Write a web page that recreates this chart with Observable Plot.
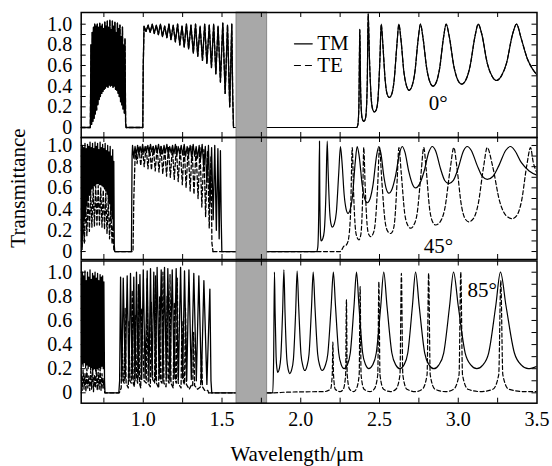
<!DOCTYPE html>
<html><head><meta charset="utf-8">
<script src="https://cdn.jsdelivr.net/npm/d3@7"></script>
<script src="https://cdn.jsdelivr.net/npm/@observablehq/plot@0.6"></script>
<style>
body{margin:0;background:#fff}
#wrap{position:relative;width:552px;height:466px;overflow:hidden;background:#fff}
#wrap svg{position:absolute;left:0}
.lab{position:absolute;font-family:'Liberation Serif','Times New Roman',Times,serif;font-size:21px;white-space:nowrap;line-height:21px;color:#000}
</style>
</head><body><div id="wrap"></div>
<script>
// ---------- tick labels / categories ----------
const xTickLabels = [1.0, 1.5, 2.0, 2.5, 3.0, 3.5];
const xMinorTicks = [0.75, 1.0, 1.25, 1.5, 1.75, 2.0, 2.25, 2.5, 2.75, 3.0, 3.25];
const yTickLabels = [0, 0.2, 0.4, 0.6, 0.8, 1.0];
const yMinorTicks = [0, 0.1, 0.2, 0.3, 0.4, 0.5, 0.6, 0.7, 0.8, 0.9, 1.0];
const band = [1.592, 1.787];
const angleLabels = ["0°", "45°", "85°"];
const seriesNames = ["TM", "TE"];

// ---------- 0 degrees (TM; TE identical at normal incidence) ----------
const tm0Dense = [[0.606,0],[0.664,0],[0.668,0.80],[0.672,0.03],[0.676,0.92],[0.680,0.06],[0.684,0.97],[0.688,0.09],[0.692,1.00],[0.696,0.13],[0.700,0.98],[0.704,0.17],[0.708,1.00],[0.712,0.22],[0.716,0.97],[0.720,0.27],[0.724,1.01],[0.728,0.30],[0.732,0.98],[0.736,0.33],[0.740,1.00],[0.744,0.35],[0.748,0.96],[0.752,0.37],[0.756,1.02],[0.760,0.38],[0.764,0.98],[0.768,0.40],[0.772,1.03],[0.776,0.39],[0.780,0.97],[0.784,0.41],[0.788,1.04],[0.792,0.40],[0.796,0.95],[0.800,0.41],[0.804,1.03],[0.808,0.39],[0.812,0.98],[0.816,0.40],[0.820,1.02],[0.824,0.37],[0.828,0.92],[0.832,0.36],[0.836,1.01],[0.840,0.33],[0.844,0.96],[0.848,0.30],[0.852,0.99],[0.856,0.25],[0.860,0.88],[0.864,0.22],[0.868,0.97],[0.872,0.18],[0.876,0.80],[0.880,0.14],[0.884,0.86],[0.888,0.05],[0.891,0],
[0.997,0],[1.000,0.6],[1.005,0.98],[1.018,0.93],[1.031,0.99],[1.044,0.92],[1.057,1.0],[1.07,0.91],[1.083,0.99],[1.096,0.90],[1.109,1.0],[1.122,0.88],[1.136,0.98],[1.15,0.87],[1.163,1.0],[1.176,0.85],[1.19,0.99],[1.204,0.83],[1.218,1.0],[1.232,0.80],[1.246,0.98],[1.26,0.78],[1.274,1.0],[1.288,0.76],[1.303,0.99],[1.318,0.72],[1.332,1.0],[1.346,0.69],[1.361,0.98],[1.376,0.65],[1.39,1.0],[1.404,0.62],[1.419,0.99],[1.433,0.58],[1.447,1.0],[1.461,0.52],[1.475,0.98],[1.49,0.44],[1.505,1.01],[1.52,0.33],[1.535,0.99],[1.549,0.2],[1.562,1.0],[1.568,0.3],[1.573,0]];
const tm0Smooth = [[1.573,0],[2.355,0],[2.363,0.03],[2.369,0.2],[2.375,0.95],[2.380,0.38],[2.3875,0.11],[2.394,0.07],[2.400,0.06],[2.407,0.07],[2.414,0.12],[2.4224,0.44],[2.428,1.1],[2.436,0.68],[2.448,0.27],[2.458,0.17],[2.468,0.15],[2.479,0.17],[2.4895,0.26],[2.5024,0.65],[2.511,1.0],[2.521,0.81],[2.5365,0.45],[2.549,0.32],[2.562,0.29],[2.577,0.32],[2.5925,0.45],[2.611,0.81],[2.623,1.0],[2.636,0.855],[2.6555,0.53],[2.672,0.40],[2.688,0.36],[2.706,0.40],[2.724,0.53],[2.7456,0.855],[2.760,1.0],[2.776,0.87],[2.80,0.57],[2.82,0.44],[2.840,0.40],[2.861,0.44],[2.8815,0.57],[2.9064,0.87],[2.923,1.0],[2.943,0.88],[2.9725,0.59],[2.997,0.46],[3.022,0.42],[3.048,0.46],[3.0745,0.59],[3.106,0.88],[3.127,1.0],[3.15,0.90],[3.1845,0.62],[3.213,0.50],[3.242,0.455],[3.274,0.50],[3.306,0.62],[3.3444,0.90],[3.370,1.0],[3.40,0.86],[3.44,0.66],[3.47,0.57],[3.5,0.51]];
const te0Dense = tm0Dense;
const te0Smooth = tm0Smooth;

// ---------- 45 degrees ----------
const tm45Dense = [[0.606,0.96],[0.610,0.04],[0.614,1.0],[0.618,0.15],[0.622,0.98],[0.626,0.29],[0.630,1.02],[0.634,0.35],[0.638,0.97],[0.642,0.43],[0.646,1.01],[0.650,0.48],[0.654,0.99],[0.658,0.53],[0.662,1.03],[0.666,0.56],[0.670,0.98],[0.674,0.59],[0.678,1.02],[0.682,0.60],[0.686,0.97],[0.690,0.62],[0.694,1.03],[0.698,0.63],[0.702,0.99],[0.706,0.64],[0.710,1.02],[0.714,0.64],[0.718,0.96],[0.722,0.63],[0.726,1.03],[0.730,0.63],[0.734,0.98],[0.738,0.62],[0.742,1.01],[0.746,0.61],[0.750,0.97],[0.754,0.59],[0.758,1.02],[0.762,0.57],[0.766,0.95],[0.770,0.54],[0.774,1.0],[0.778,0.50],[0.782,0.94],[0.786,0.45],[0.790,0.99],[0.794,0.39],[0.798,0.90],[0.802,0.31],[0.806,0.96],[0.810,0.2],[0.813,0.85],[0.816,0.06],[0.819,0],
[0.925,0],[0.929,0.9],[0.932,1.0],[0.940,0.88],[0.948,0.99],[0.956,0.91],[0.964,1.0],[0.972,0.92],[0.980,0.99],[0.988,0.93],[0.996,1.01],[1.004,0.93],[1.012,0.99],[1.020,0.94],[1.029,1.0],[1.037,0.93],[1.046,1.01],[1.054,0.94],[1.063,0.99],[1.071,0.93],[1.080,1.0],[1.088,0.94],[1.097,1.01],[1.105,0.93],[1.114,0.99],[1.123,0.92],[1.132,1.0],[1.141,0.93],[1.150,1.01],[1.159,0.92],[1.168,0.99],[1.177,0.93],[1.186,1.0],[1.195,0.92],[1.204,1.01],[1.213,0.91],[1.222,0.99],[1.231,0.92],[1.241,1.0],[1.250,0.91],[1.260,1.01],[1.269,0.90],[1.279,0.99],[1.288,0.91],[1.298,1.0],[1.307,0.89],[1.317,1.01],[1.326,0.9],[1.336,0.99],[1.345,0.88],[1.355,1.0],[1.364,0.87],[1.374,1.01],[1.384,0.80],[1.394,0.99],[1.404,0.65],[1.414,1.0],[1.424,0.45],[1.434,0.98],[1.444,0.30],[1.454,1.0],[1.464,0.2],[1.474,0.97],[1.482,0.12],[1.490,0.95],[1.495,0.3],[1.499,0]];
const tm45Smooth = [[1.499,0],[2.100,0],[2.108,0.04],[2.114,0.35],[2.119,1.04],[2.121,0.55],[2.1245,0.19],[2.127,0.12],[2.130,0.10],[2.1395,0.12],[2.149,0.19],[2.160,0.55],[2.168,1.04],[2.174,0.75],[2.184,0.37],[2.192,0.26],[2.200,0.23],[2.213,0.26],[2.226,0.37],[2.2416,0.75],[2.252,0.99],[2.2616,0.85],[2.276,0.53],[2.288,0.40],[2.300,0.36],[2.3145,0.40],[2.329,0.53],[2.3464,0.85],[2.358,0.99],[2.371,0.90],[2.39,0.63],[2.406,0.50],[2.422,0.46],[2.4405,0.50],[2.459,0.63],[2.481,0.90],[2.496,0.99],[2.509,0.925],[2.5275,0.71],[2.543,0.59],[2.559,0.55],[2.580,0.59],[2.6015,0.71],[2.627,0.925],[2.644,0.99],[2.661,0.94],[2.6865,0.75],[2.708,0.64],[2.729,0.60],[2.7555,0.64],[2.782,0.75],[2.8138,0.94],[2.835,0.99],[2.856,0.95],[2.8875,0.78],[2.914,0.67],[2.940,0.64],[2.969,0.67],[2.9985,0.78],[3.0336,0.95],[3.057,0.99],[3.082,0.955],[3.1205,0.81],[3.152,0.71],[3.184,0.68],[3.221,0.71],[3.258,0.81],[3.302,0.955],[3.332,0.99],[3.36,0.95],[3.40,0.84],[3.45,0.76],[3.5,0.72]];
const te45Dense = [[0.606,0.30],[0.612,0.02],[0.618,0.40],[0.626,0.08],[0.634,0.47],[0.642,0.15],[0.650,0.53],[0.658,0.19],[0.666,0.57],[0.674,0.23],[0.682,0.60],[0.690,0.24],[0.698,0.62],[0.706,0.25],[0.714,0.62],[0.722,0.25],[0.730,0.60],[0.738,0.23],[0.746,0.58],[0.754,0.21],[0.762,0.55],[0.770,0.17],[0.778,0.5],[0.786,0.12],[0.794,0.42],[0.802,0.07],[0.808,0.25],[0.813,0.02],[0.816,0],
[0.935,0],[0.940,0.5],[0.950,0.98],[0.961,0.83],[0.972,0.99],[0.984,0.81],[0.995,0.98],[1.006,0.80],[1.018,0.99],[1.030,0.78],[1.041,0.98],[1.052,0.77],[1.064,0.99],[1.076,0.76],[1.088,0.98],[1.100,0.75],[1.112,0.99],[1.124,0.73],[1.136,0.98],[1.148,0.71],[1.160,0.99],[1.172,0.70],[1.185,0.98],[1.197,0.68],[1.210,0.99],[1.222,0.66],[1.235,0.98],[1.248,0.63],[1.260,0.99],[1.272,0.60],[1.285,0.98],[1.298,0.57],[1.310,0.99],[1.322,0.54],[1.335,0.97],[1.348,0.50],[1.360,0.98],[1.372,0.42],[1.385,0.96],[1.396,0.33],[1.408,0.95],[1.419,0.22],[1.430,0.9],[1.436,0.08],[1.443,0]];
const te45Smooth = [[1.443,0],[2.250,0],[2.262,0.02],[2.273,0.05],[2.2865,0.058],[2.300,0.095],[2.3162,0.36],[2.327,0.98],[2.3354,0.56],[2.348,0.2],[2.3585,0.13],[2.369,0.11],[2.3768,0.13],[2.3845,0.2],[2.3938,0.56],[2.400,0.98],[2.4086,0.63],[2.4215,0.25],[2.432,0.16],[2.443,0.14],[2.457,0.16],[2.4715,0.25],[2.4886,0.63],[2.500,0.98],[2.514,0.68],[2.535,0.29],[2.5525,0.19],[2.570,0.17],[2.583,0.19],[2.5965,0.29],[2.6124,0.68],[2.623,0.98],[2.638,0.74],[2.66,0.36],[2.6785,0.25],[2.697,0.22],[2.718,0.25],[2.739,0.36],[2.764,0.74],[2.781,0.98],[2.796,0.78],[2.8185,0.40],[2.837,0.28],[2.856,0.25],[2.885,0.28],[2.914,0.40],[2.949,0.78],[2.972,0.98],[2.991,0.80],[3.0195,0.44],[3.043,0.31],[3.067,0.28],[3.096,0.31],[3.1255,0.44],[3.161,0.80],[3.184,0.98],[3.216,0.82],[3.2635,0.47],[3.303,0.34],[3.343,0.31],[3.372,0.34],[3.401,0.47],[3.436,0.82],[3.459,0.98],[3.475,0.85],[3.5,0.74]];

// ---------- 85 degrees ----------
const tm85Dense = [[0.606,0.95],[0.610,0.24],[0.614,1.0],[0.618,0.22],[0.622,0.97],[0.626,0.25],[0.630,1.01],[0.634,0.21],[0.638,0.93],[0.642,0.23],[0.646,1.0],[0.650,0.20],[0.654,0.96],[0.658,0.22],[0.662,1.02],[0.666,0.19],[0.670,0.94],[0.674,0.21],[0.678,0.99],[0.682,0.19],[0.686,0.97],[0.690,0.20],[0.694,1.0],[0.698,0.18],[0.702,0.95],[0.706,0.20],[0.710,0.99],[0.714,0.19],[0.718,0.93],[0.722,0.21],[0.726,0.98],[0.730,0.20],[0.734,0.96],[0.738,0.22],[0.742,0.97],[0.746,0.2],[0.750,0.92],[0.754,0.1],[0.757,0],
[0.845,0],[0.850,0.1],[0.856,0.96],[0.864,0.1],[0.873,0.95],[0.886,0.12],[0.898,0.97],[0.909,0.1],[0.919,0.99],[0.930,0.12],[0.940,0.96],[0.948,0.1],[0.957,1.0],[0.968,0.13],[0.979,0.98],[0.990,0.11],[1.000,1.02],[1.012,0.12],[1.025,1.01],[1.036,0.1],[1.046,1.03],[1.056,0.13],[1.067,1.0],[1.078,0.11],[1.088,1.04],[1.101,0.12],[1.114,1.02],[1.125,0.1],[1.135,1.04],[1.146,0.12],[1.156,1.03],[1.170,0.1],[1.184,1.02],[1.196,0.12],[1.209,1.03],[1.223,0.11],[1.237,1.04],[1.250,0.12],[1.262,1.01],[1.276,0.1],[1.290,1.02],[1.305,0.11],[1.321,0.99],[1.337,0.1],[1.353,0.97],[1.369,0.09],[1.385,0.93],[1.404,0.07],[1.423,0.86],[1.430,0.1],[1.435,0]];
const tm85Smooth = [[1.435,0],[1.822,0],[1.828,0.3],[1.833,1.0],[1.837,0.68],[1.8435,0.3],[1.849,0.2],[1.854,0.17],[1.864,0.2],[1.8735,0.3],[1.885,0.68],[1.893,1.02],[1.900,0.67],[1.9115,0.28],[1.921,0.19],[1.930,0.16],[1.942,0.19],[1.9535,0.28],[1.9676,0.67],[1.977,1.01],[1.987,0.71],[2.0015,0.32],[2.014,0.22],[2.026,0.185],[2.039,0.22],[2.0525,0.32],[2.0684,0.71],[2.079,1.0],[2.0904,0.71],[2.1075,0.32],[2.122,0.22],[2.136,0.185],[2.154,0.22],[2.1715,0.32],[2.1928,0.71],[2.207,1.0],[2.2206,0.72],[2.241,0.33],[2.258,0.23],[2.275,0.2],[2.295,0.23],[2.3145,0.33],[2.3382,0.72],[2.354,1.0],[2.3696,0.72],[2.393,0.33],[2.4125,0.23],[2.432,0.2],[2.456,0.23],[2.4795,0.33],[2.508,0.72],[2.527,1.0],[2.5476,0.72],[2.5785,0.33],[2.604,0.23],[2.630,0.2],[2.655,0.23],[2.6795,0.33],[2.709,0.72],[2.729,1.0],[2.752,0.72],[2.787,0.33],[2.816,0.23],[2.845,0.2],[2.876,0.23],[2.9075,0.33],[2.945,0.72],[2.970,1.0],[3.0,0.72],[3.044,0.33],[3.081,0.23],[3.118,0.2],[3.1555,0.23],[3.193,0.33],[3.238,0.72],[3.268,1.0],[3.3034,0.72],[3.3565,0.33],[3.401,0.23],[3.445,0.2],[3.5,0.22]];
const te85Dense = [[0.606,0.15],[0.612,0.02],[0.618,0.19],[0.624,0.03],[0.630,0.16],[0.636,0.01],[0.642,0.2],[0.648,0.04],[0.654,0.14],[0.660,0.02],[0.666,0.18],[0.672,0.03],[0.678,0.21],[0.684,0.01],[0.690,0.15],[0.696,0.04],[0.702,0.19],[0.708,0.02],[0.714,0.17],[0.720,0.03],[0.726,0.2],[0.732,0.02],[0.738,0.16],[0.744,0.04],[0.750,0.12],[0.755,0],
[0.848,0],[0.860,0.04],[0.866,0.5],[0.872,0.1],[0.879,0.08],[0.885,0.7],[0.891,0.08],[0.905,0.04],[0.909,0.6],[0.915,0.1],[0.924,0.08],[0.930,0.85],[0.936,0.08],[0.944,0.05],[0.949,0.65],[0.958,0.12],[0.964,0.08],[0.970,0.9],[0.976,0.08],[0.984,0.04],[0.990,0.7],[1.005,0.1],[1.019,0.08],[1.025,0.95],[1.031,0.08],[1.045,0.05],[1.051,0.75],[1.060,0.11],[1.072,0.08],[1.078,0.97],[1.084,0.08],[1.098,0.04],[1.104,0.8],[1.110,0.1],[1.119,0.08],[1.125,1.0],[1.131,0.08],[1.145,0.05],[1.151,0.8],[1.158,0.1],[1.164,0.08],[1.170,0.98],[1.176,0.08],[1.190,0.04],[1.197,0.75],[1.204,0.1],[1.210,0.08],[1.216,0.95],[1.222,0.08],[1.240,0.04],[1.246,0.6],[1.255,0.09],[1.262,0.07],[1.268,0.7],[1.274,0.07],[1.292,0.03],[1.308,0.07],[1.314,0.06],[1.320,0.5],[1.326,0.06],[1.345,0.03],[1.364,0.05],[1.370,0.3],[1.376,0.05],[1.39,0.02],[1.41,0.02],[1.415,0]];
const te85Smooth = [[1.415,0],[1.83,0],[1.90,0.005],[2.0,0.008],[2.15,0.01],[2.189,0.03],[2.200,0.15],[2.204,0.42],[2.208,0.15],[2.219,0.03],[2.25,0.01],[2.270,0.03],[2.285,0.15],[2.290,0.77],[2.295,0.15],[2.310,0.03],[2.335,0.01],[2.352,0.03],[2.371,0.15],[2.377,0.88],[2.383,0.15],[2.402,0.03],[2.44,0.01],[2.466,0.03],[2.489,0.15],[2.496,0.92],[2.503,0.15],[2.526,0.03],[2.57,0.01],[2.604,0.03],[2.630,0.15],[2.639,0.99],[2.648,0.15],[2.674,0.03],[2.73,0.01],[2.772,0.03],[2.802,0.15],[2.812,0.99],[2.822,0.15],[2.852,0.03],[2.92,0.01],[2.971,0.03],[3.005,0.15],[3.016,1.0],[3.027,0.15],[3.061,0.03],[3.14,0.01],[3.220,0.03],[3.257,0.15],[3.270,0.93],[3.283,0.15],[3.320,0.03],[3.42,0.01],[3.5,0.01]];

// ---------- layout (positions & styles) ----------
const W = 552, ML = 80.7, MR = 15.5;
const X_DOMAIN = [0.606, 3.5];
const FONT = "'Liberation Serif','Times New Roman',Times,serif";
const layout = [
  {top: 0,   height: 138, mt: 12,  mb: 1,    y: [-0.097, 1.113], angle: {x: 2.872, y: 0.165}},
  {top: 136, height: 124, mt: 1,   mb: 1,    y: [-0.075, 1.075], angle: {x: 2.875, y: -0.01}},
  {top: 259, height: 207, mt: 1.5, mb: 63.3, y: [-0.086, 1.093], angle: {x: 3.152, y: 0.793}}
];
const legendPos = {x1: 1.96, x2: 2.073, xText: 2.104, yTM: 0.81, yTE: 0.60, yTMText: 0.812, yTEText: 0.605};
const panels = [
  {tm: [tm0Dense, tm0Smooth], te: [te0Dense, te0Smooth]},
  {tm: [tm45Dense, tm45Smooth], te: [te45Dense, te45Smooth]},
  {tm: [tm85Dense, tm85Smooth], te: [te85Dense, te85Smooth]}
];
const yFmt = d => d === 0 ? "0" : d.toFixed(1);

const wrap = document.getElementById("wrap");
panels.forEach((p, i) => {
  const L = layout[i];
  const fh = L.height - L.mt - L.mb;
  const fw = W - ML - MR;
  const marks = [];
  const curves = ["linear", "monotone-x"];
  const widths = [1.3, 1.2];
  p.tm.forEach((seg, k) => marks.push(Plot.line(seg, {x: d => d[0], y: d => d[1], curve: curves[k], stroke: "black", strokeWidth: widths[k], clip: true})));
  p.te.forEach((seg, k) => marks.push(Plot.line(seg, {x: d => d[0], y: d => d[1], curve: curves[k], stroke: "black", strokeWidth: widths[k], strokeDasharray: "4,2.5", clip: true})));
  marks.push(Plot.rect([band], {x1: d => d[0], x2: d => d[1], fill: "#a8a8a8", stroke: "#7a7a7a", strokeWidth: 0.8}));
  marks.push(Plot.tickX(xMinorTicks, {x: d => d, insetTop: fh - 5, stroke: "black", strokeWidth: 1}));
  marks.push(Plot.tickX(xMinorTicks, {x: d => d, insetBottom: fh - 5, stroke: "black", strokeWidth: 1}));
  marks.push(Plot.tickY(yMinorTicks, {y: d => d, insetRight: fw - 5, stroke: "black", strokeWidth: 1}));
  marks.push(Plot.tickY(yMinorTicks, {y: d => d, insetLeft: fw - 5, stroke: "black", strokeWidth: 1}));
  marks.push(Plot.frame({stroke: "black", strokeWidth: 1.5}));
  marks.push(Plot.text(yTickLabels, {y: d => d, text: yFmt, frameAnchor: "left", dx: -9, textAnchor: "end", lineAnchor: "middle", fontSize: 20, fill: "black"}));
  if (i === 2) {
    marks.push(Plot.text(xTickLabels, {x: d => d, text: d => d.toFixed(1), frameAnchor: "bottom", dy: 9, lineAnchor: "top", fontSize: 20, fill: "black"}));
  }
  marks.push(Plot.text([angleLabels[i]], {x: () => L.angle.x, y: () => L.angle.y, text: d => d, textAnchor: "middle", lineAnchor: "bottom", fontSize: 21, fill: "black"}));
  if (i === 0) {
    marks.push(Plot.line([[legendPos.x1, legendPos.yTM], [legendPos.x2, legendPos.yTM]], {x: d => d[0], y: d => d[1], stroke: "black", strokeWidth: 1.2}));
    marks.push(Plot.line([[legendPos.x1, legendPos.yTE], [legendPos.x2, legendPos.yTE]], {x: d => d[0], y: d => d[1], stroke: "black", strokeWidth: 1.2, strokeDasharray: "6,5"}));
    marks.push(Plot.text(seriesNames, {x: () => legendPos.xText, y: (d, j) => j === 0 ? legendPos.yTMText : legendPos.yTEText, text: d => d, textAnchor: "start", lineAnchor: "middle", fontSize: 21, fill: "black"}));
  }
  const svg = Plot.plot({
    width: W, height: L.height,
    marginTop: L.mt, marginBottom: L.mb, marginLeft: ML, marginRight: MR,
    x: {domain: X_DOMAIN, axis: null},
    y: {domain: L.y, axis: null},
    style: {background: "transparent", fontFamily: FONT, fontSize: "20px", overflow: "visible", color: "black"},
    marks
  });
  svg.style.position = "absolute";
  svg.style.top = L.top + "px";
  svg.style.left = "0px";
  wrap.appendChild(svg);
});

const yl = document.createElement("div");
yl.className = "lab";
yl.textContent = "Transmittance";
yl.style.left = "18px"; yl.style.top = "188px";
yl.style.transform = "translate(-50%,-50%) rotate(-90deg)";
wrap.appendChild(yl);

const xl = document.createElement("div");
xl.className = "lab";
xl.textContent = "Wavelength/μm";
xl.style.left = "297px"; xl.style.top = "444px";
xl.style.transform = "translateX(-50%)";
wrap.appendChild(xl);
</script>
</body></html>
